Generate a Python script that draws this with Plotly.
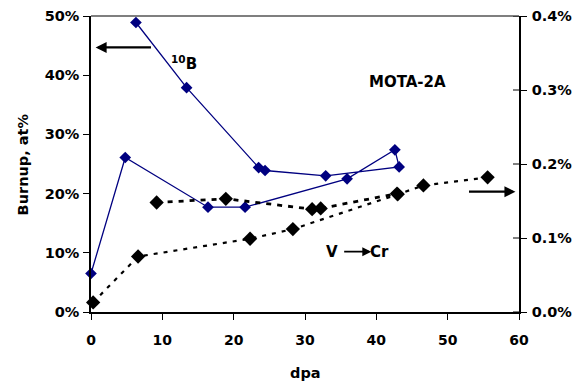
import plotly.graph_objects as go

# ---- data ----
b10_dpa = [0, 4.8, 16.4, 21.6, 35.9, 42.6, 43.2, 32.9, 24.4, 23.5, 13.4, 6.3]
b10_burnup = [0.065, 0.261, 0.177, 0.177, 0.225, 0.274, 0.245, 0.230, 0.239, 0.244, 0.379, 0.489]

vcr_low_dpa = [0.3, 6.6, 22.3, 28.3, 43.0, 46.6, 55.6]
vcr_low_burnup = [0.00013, 0.00075, 0.00099, 0.00112, 0.00159, 0.00171, 0.00182]

vcr_up_dpa = [9.2, 18.9, 31.0, 32.2, 42.9]
vcr_up_burnup = [0.00148, 0.00153, 0.00139, 0.00140, 0.00160]

x_ticks = [0, 10, 20, 30, 40, 50, 60]
left_ticks = [0, 0.1, 0.2, 0.3, 0.4, 0.5]
right_ticks = [0, 0.001, 0.002, 0.003, 0.004]

FONT = "DejaVu Sans"
navy = "#000080"

fig = go.Figure()
fig.add_trace(go.Scatter(
    x=b10_dpa, y=b10_burnup, mode="lines+markers",
    line=dict(color=navy, width=1.3),
    marker=dict(symbol="diamond", size=9, color=navy),
    cliponaxis=False, showlegend=False, yaxis="y"))
fig.add_trace(go.Scatter(
    x=vcr_low_dpa, y=vcr_low_burnup, mode="lines+markers",
    line=dict(color="black", width=2.2, dash="4px,6px"),
    marker=dict(symbol="diamond", size=11, color="black"),
    cliponaxis=False, showlegend=False, yaxis="y2"))
fig.add_trace(go.Scatter(
    x=vcr_up_dpa, y=vcr_up_burnup, mode="lines+markers",
    line=dict(color="black", width=2.8, dash="5px,6px"),
    marker=dict(symbol="diamond", size=11, color="black"),
    cliponaxis=False, showlegend=False, yaxis="y2"))

xtickfont = dict(family=FONT, size=14, color="black", weight="bold")
ytickfont = dict(family=FONT, size=14.5, color="black", weight="bold")

fig.update_layout(
    width=583, height=384,
    margin=dict(l=91.4, r=64.3, t=16, b=72, autoexpand=False),
    paper_bgcolor="white", plot_bgcolor="white",
    font=dict(family=FONT, color="black"),
    xaxis=dict(range=[0, 60], tickvals=x_ticks, ticks="outside", ticklen=6,
               tickcolor="black", showline=True, linecolor="black", linewidth=1.5,
               showgrid=False, zeroline=False, tickfont=xtickfont,
               ticklabelstandoff=8, automargin=False),
    yaxis=dict(range=[0, 0.5], tickvals=left_ticks, tickformat=".0%", ticks="outside",
               ticklen=6, tickcolor="black", showline=True, linecolor="black",
               linewidth=1.5, showgrid=False, zeroline=False, tickfont=ytickfont,
               ticklabelstandoff=1, automargin=False),
    yaxis2=dict(range=[0, 0.004], tickvals=right_ticks, tickformat=".1%", overlaying="y",
                side="right", ticks="outside", ticklen=6, tickcolor="black",
                showline=True, linecolor="black", linewidth=1.5, showgrid=False,
                zeroline=False, tickfont=ytickfont, ticklabelstandoff=2,
                automargin=False),
)

# axis titles
fig.add_annotation(x=0.5, y=-0.206, xref="paper", yref="paper", text="dpa",
                   showarrow=False, yanchor="middle",
                   font=dict(family=FONT, size=14.5, weight="bold"))
fig.add_annotation(x=-0.158, y=0.5, xref="paper", yref="paper", text="Burnup, at%",
                   showarrow=False, textangle=-90, xanchor="center", yanchor="middle",
                   font=dict(family=FONT, size=14.5, weight="bold"))

# top border line
fig.add_shape(type="line", xref="paper", yref="paper", x0=0, x1=1, y0=1, y1=1,
              line=dict(color="#555555", width=1.3))
# inner half of right-axis ticks
for v in right_ticks:
    fig.add_shape(type="line", xref="paper", yref="y2", x0=1, x1=0.986, y0=v, y1=v,
                  line=dict(color="black", width=1))

# annotations
fig.add_annotation(x=0.65, y=0.447, ax=8.9, ay=0.447, xref="x", yref="y",
                   axref="x", ayref="y", text=" ", showarrow=True,
                   arrowhead=2, arrowsize=1, arrowwidth=2.2, arrowcolor="black")
fig.add_annotation(x=13.1, y=0.42, xref="x", yref="y", text="<sup>10</sup>B",
                   showarrow=False, font=dict(family=FONT, size=15, weight="bold"))
fig.add_annotation(x=59.5, y=0.2032, ax=52.5, ay=0.2032, xref="x", yref="y",
                   axref="x", ayref="y", text=" ", showarrow=True,
                   arrowhead=2, arrowsize=1, arrowwidth=2.2, arrowcolor="black")
fig.add_annotation(x=44.4, y=0.3885, xref="x", yref="y", text="MOTA-2A",
                   showarrow=False, font=dict(family=FONT, size=15, weight="bold"))
fig.add_annotation(x=33.8, y=0.102, xref="x", yref="y", text="V",
                   showarrow=False, font=dict(family=FONT, size=15, weight="bold"))
fig.add_annotation(x=39.3, y=0.1019, ax=35.0, ay=0.1019, xref="x", yref="y",
                   axref="x", ayref="y", text=" ", showarrow=True,
                   arrowhead=2, arrowsize=1, arrowwidth=1.8, arrowcolor="black")
fig.add_annotation(x=40.4, y=0.102, xref="x", yref="y", text="Cr",
                   showarrow=False, font=dict(family=FONT, size=15, weight="bold"))

fig.write_html("out.html")
